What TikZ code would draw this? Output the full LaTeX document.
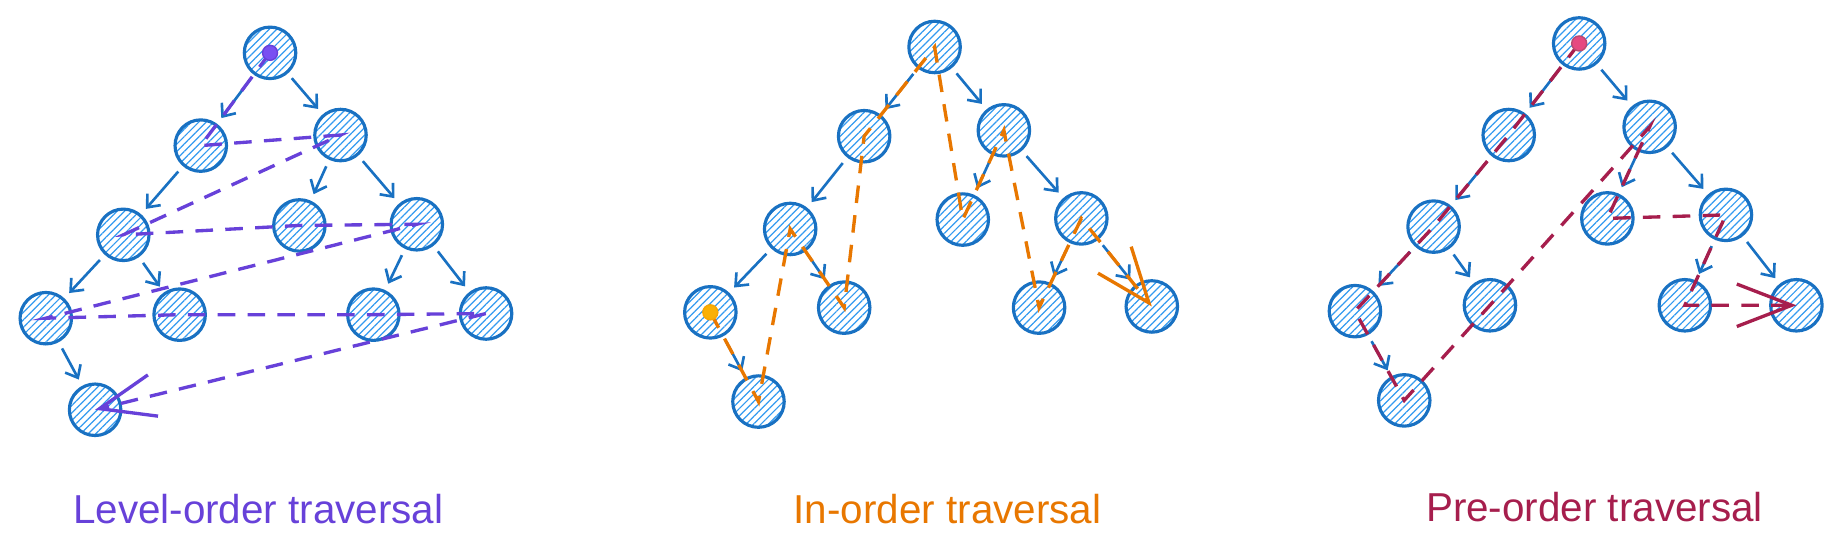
\documentclass[tikz,border=0pt]{standalone}
\usepackage{fontspec}
\setmainfont{Liberation Sans}
\usetikzlibrary{arrows.meta, patterns.meta}
\definecolor{nodeblue}{RGB}{25, 113, 194}
\definecolor{hatchblue}{RGB}{51, 154, 240}
\definecolor{levelpurple}{RGB}{103, 65, 217}
\definecolor{dotpurple}{RGB}{121, 80, 242}
\definecolor{inorange}{RGB}{232, 119, 0}
\definecolor{dotorange}{RGB}{250, 176, 5}
\definecolor{precrimson}{RGB}{166, 30, 77}
\definecolor{dotpink}{RGB}{230, 73, 128}
\tikzstyle{tnode} = [circle, minimum size=1.03cm, inner sep=0pt, draw=nodeblue, line width=1.8pt, pattern={Lines[angle=45, distance=3pt, line width=0.7pt]}, pattern color=hatchblue]
\tikzstyle{edge} = [draw=nodeblue, line width=1.5pt, -{Straight Barb[length=6pt, width=10pt]}, shorten <=4pt, shorten >=4pt]
\tikzstyle{walk} = [line width=1.9pt, dash pattern=on 10pt off 7pt, -{Straight Barb[length=1.1cm, width=0.85cm]}]
\tikzstyle{startdot} = [circle, inner sep=0pt, minimum size=0.3cm, line width=0.8pt]
\tikzstyle{caption} = [anchor=base, font=\fontsize{23}{28}\selectfont]

\begin{document}
\begin{tikzpicture}[x=0.0235cm, y=-0.0235cm]
\useasboundingbox (0,0) rectangle (1568,470);

% Level-order tree
\node (l0) [tnode] at (230,45) {};
\node (l1) [tnode] at (171,124) {};
\node (l2) [tnode] at (290,115) {};
\node (l3) [tnode] at (105,200) {};
\node (l4) [tnode] at (255,192) {};
\node (l5) [tnode] at (355,191) {};
\node (l6) [tnode] at (39,271) {};
\node (l7) [tnode] at (153,268) {};
\node (l8) [tnode] at (318,268) {};
\node (l9) [tnode] at (414,267) {};
\node (l10) [tnode] at (81,349) {};

\draw [edge] (l0) -- (l1);
\draw [edge] (l0) -- (l2);
\draw [edge] (l1) -- (l3);
\draw [edge] (l2) -- (l4);
\draw [edge] (l2) -- (l5);
\draw [edge] (l3) -- (l6);
\draw [edge] (l3) -- (l7);
\draw [edge] (l5) -- (l8);
\draw [edge] (l5) -- (l9);
\draw [edge] (l6) -- (l10);

% Level-order walk
\draw [walk, levelpurple] (l0.center) -- (l1.center) -- (l2.center) -- (l3.center) -- (l4.center) -- (l5.center) -- (l6.center) -- (l7.center) -- (l8.center) -- (l9.center) -- (l10.center);
\node (lstart) [startdot, fill=dotpurple, draw=levelpurple] at (l0) {};

% In-order tree
\node (i0) [tnode] at (796,40) {};
\node (i1) [tnode] at (736,116) {};
\node (i2) [tnode] at (855,111) {};
\node (i3) [tnode] at (673,195) {};
\node (i4) [tnode] at (820,187) {};
\node (i5) [tnode] at (921,186) {};
\node (i6) [tnode] at (605,266) {};
\node (i7) [tnode] at (719,262) {};
\node (i8) [tnode] at (885,262) {};
\node (i9) [tnode] at (981,261) {};
\node (i10) [tnode] at (646,342) {};

\draw [edge] (i0) -- (i1);
\draw [edge] (i0) -- (i2);
\draw [edge] (i1) -- (i3);
\draw [edge] (i2) -- (i4);
\draw [edge] (i2) -- (i5);
\draw [edge] (i3) -- (i6);
\draw [edge] (i3) -- (i7);
\draw [edge] (i5) -- (i8);
\draw [edge] (i5) -- (i9);
\draw [edge] (i6) -- (i10);

% In-order walk
\draw [walk, inorange] (i6.center) -- (i10.center) -- (i3.center) -- (i7.center) -- (i1.center) -- (i0.center) -- (i4.center) -- (i2.center) -- (i8.center) -- (i5.center) -- (i9.center);
\node (istart) [startdot, fill=dotorange, draw=dotorange!80!inorange] at (i6) {};

% Pre-order tree
\node (p0) [tnode] at (1345,37) {};
\node (p1) [tnode] at (1285,115) {};
\node (p2) [tnode] at (1405,108) {};
\node (p3) [tnode] at (1221,193) {};
\node (p4) [tnode] at (1369,186) {};
\node (p5) [tnode] at (1470,183) {};
\node (p6) [tnode] at (1154,265) {};
\node (p7) [tnode] at (1269,260) {};
\node (p8) [tnode] at (1435,260) {};
\node (p9) [tnode] at (1530,260) {};
\node (p10) [tnode] at (1196,341) {};

\draw [edge] (p0) -- (p1);
\draw [edge] (p0) -- (p2);
\draw [edge] (p1) -- (p3);
\draw [edge] (p2) -- (p4);
\draw [edge] (p2) -- (p5);
\draw [edge] (p3) -- (p6);
\draw [edge] (p3) -- (p7);
\draw [edge] (p5) -- (p8);
\draw [edge] (p5) -- (p9);
\draw [edge] (p6) -- (p10);

% Pre-order walk
\draw [walk, precrimson] (p0.center) -- (p1.center) -- (p3.center) -- (p6.center) -- (p10.center) -- (p7.center) -- (p2.center) -- (p4.center) -- (p5.center) -- (p8.center) -- (p9.center);
\node (pstart) [startdot, fill=dotpink, draw=precrimson!80] at (p0) {};

% Captions
\node (lcap) [caption, text=levelpurple] at (220,446) {Level-order traversal};
\node (icap) [caption, text=inorange] at (807,446) {In-order traversal};
\node (pcap) [caption, text=precrimson] at (1358,444) {Pre-order traversal};

\end{tikzpicture}
\end{document}
